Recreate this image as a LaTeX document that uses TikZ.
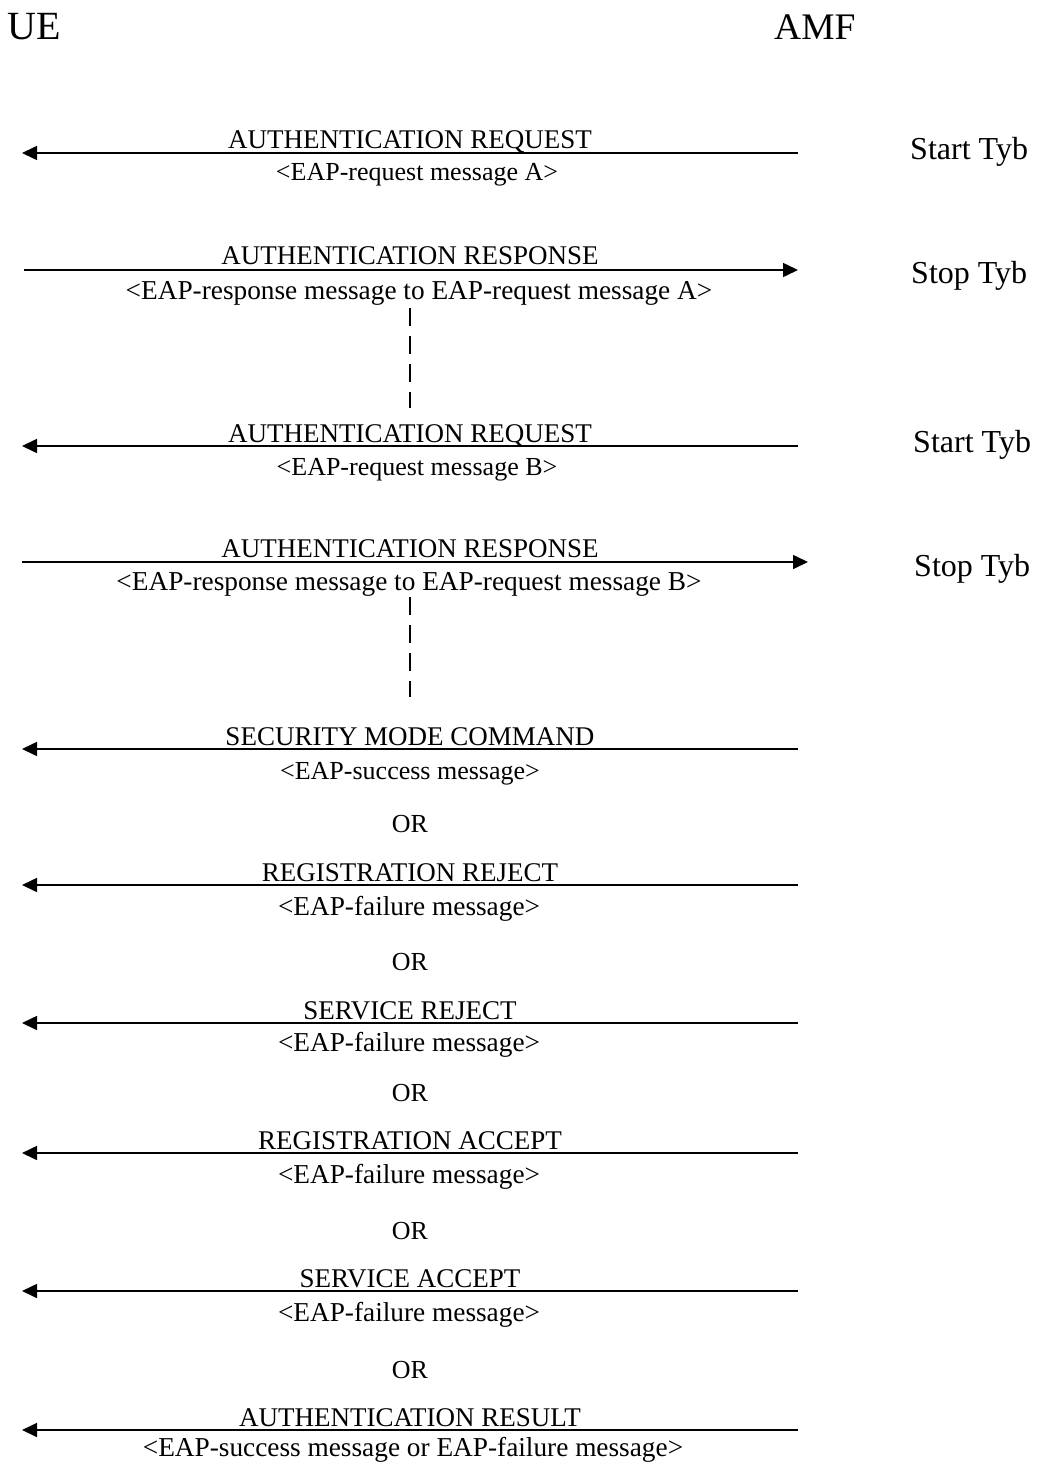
\documentclass[tikz,border=0pt]{standalone}
\usepackage{fontspec}
\setmainfont{Liberation Serif}
\usetikzlibrary{arrows.meta}
\begin{document}
\begin{tikzpicture}[x=1pt,y=-1pt,
  msg/.style={line width=1.6pt,-{Triangle[length=15pt,width=14pt]}},
  lbl/.style={anchor=base,inner sep=0pt,font=\fontsize{27}{30}\selectfont},
  sub/.style={anchor=base,inner sep=0pt,font=\fontsize{26}{29}\selectfont},
  wsub/.style={anchor=base,inner sep=0pt,font=\fontsize{27.3}{30}\selectfont},
  ent/.style={anchor=base west,inner sep=0pt,font=\fontsize{40}{44}\selectfont},
  tmr/.style={anchor=base west,inner sep=0pt,font=\fontsize{32}{36}\selectfont},
  orlbl/.style={anchor=base,inner sep=0pt,font=\fontsize{26}{29}\selectfont},
  dash line/.style={line width=1.6pt,dash pattern=on 18pt off 10pt}]
\useasboundingbox (0,0) rectangle (1037,1463);
% entities
\node[ent] (ue) at (7,40) {UE};
\node[ent,font=\fontsize{37.5}{42}\selectfont] (amf) at (774,40) {AMF};
% coordinates for message ends
\foreach \n/\y in {r1/153,r2/270,r3/446,r4/562,r5/749,r6/885,r7/1023,r8/1153,r9/1291,r10/1430}{
  \coordinate (\n L) at (22,\y);
  \coordinate (\n R) at (798,\y);
}
\coordinate (r2L) at (24,270);
\coordinate (r2R) at (798,270);
\coordinate (r4L) at (22,562);
\coordinate (r4R) at (808,562);
% messages
\draw[msg] (r1R) -- (r1L);
\draw[msg] (r2L) -- (r2R);
\draw[msg] (r3R) -- (r3L);
\draw[msg] (r4L) -- (r4R);
\draw[msg] (r5R) -- (r5L);
\draw[msg] (r6R) -- (r6L);
\draw[msg] (r7R) -- (r7L);
\draw[msg] (r8R) -- (r8L);
\draw[msg] (r9R) -- (r9L);
\draw[msg] (r10R) -- (r10L);
% labels
\node[lbl] (l1) at (410,149) {AUTHENTICATION REQUEST};
\node[sub] (s1) at (417,181) {<EAP-request message A>};
\node[lbl] (l2) at (410,264) {AUTHENTICATION RESPONSE};
\node[wsub] (s2) at (419,299) {<EAP-response message to EAP-request message A>};
\node[lbl] (l3) at (410,442) {AUTHENTICATION REQUEST};
\node[sub] (s3) at (417,475) {<EAP-request message B>};
\node[lbl] (l4) at (410,557) {AUTHENTICATION RESPONSE};
\node[wsub] (s4) at (409,590) {<EAP-response message to EAP-request message B>};
\node[lbl] (l5) at (410,745) {SECURITY MODE COMMAND};
\node[sub] (s5) at (410,779) {<EAP-success message>};
\node[orlbl] (o1) at (410,832) {OR};
\node[lbl] (l6) at (410,881) {REGISTRATION REJECT};
\node[wsub] (s6) at (409,915) {<EAP-failure message>};
\node[orlbl] (o2) at (410,970) {OR};
\node[lbl] (l7) at (410,1019) {SERVICE REJECT};
\node[wsub] (s7) at (409,1051) {<EAP-failure message>};
\node[orlbl] (o3) at (410,1101) {OR};
\node[lbl] (l8) at (410,1149) {REGISTRATION ACCEPT};
\node[wsub] (s8) at (409,1183) {<EAP-failure message>};
\node[orlbl] (o4) at (410,1239) {OR};
\node[lbl] (l9) at (410,1287) {SERVICE ACCEPT};
\node[wsub] (s9) at (409,1321) {<EAP-failure message>};
\node[orlbl] (o5) at (410,1378) {OR};
\node[lbl] (l10) at (410,1426) {AUTHENTICATION RESULT};
\node[wsub] (s10) at (413,1456) {<EAP-success message or EAP-failure message>};
% timers
\node[tmr] (t1) at (910,160) {Start Tyb};
\node[tmr] (t2) at (911,283) {Stop Tyb};
\node[tmr] (t3) at (913,452) {Start Tyb};
\node[tmr] (t4) at (914,576) {Stop Tyb};
% dashed continuation lines
\coordinate (d1a) at (410,308);
\coordinate (d1b) at (410,408);
\coordinate (d2a) at (410,597);
\coordinate (d2b) at (410,697);
\draw[dash line] (d1a) -- (d1b);
\draw[dash line] (d2a) -- (d2b);
\end{tikzpicture}
\end{document}
